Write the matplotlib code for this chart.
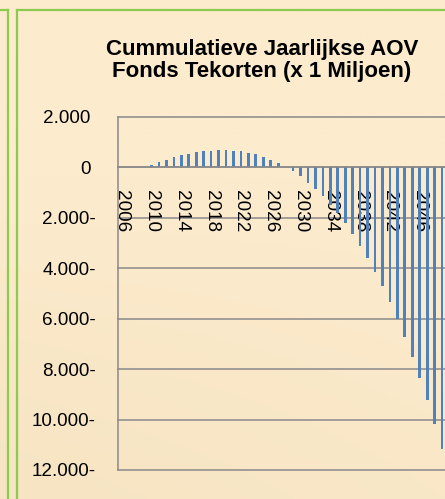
import numpy as np
import matplotlib
matplotlib.use("Agg")
import matplotlib.pyplot as plt
from matplotlib.lines import Line2D
from matplotlib.ticker import FuncFormatter

plt.rcParams['font.family'] = ['Liberation Sans', 'DejaVu Sans']

# data (x 1 miljoen)
years = list(range(2006, 2050))
tekort = [0, 0, 0, 0,
          91, 198, 289, 396, 475, 542, 594, 634, 661, 673,
          673, 661, 634, 582, 515, 408, 289, 158,
          0,
          -158, -356, -614, -875, -1152, -1489, -1821, -2209, -2637, -3100,
          -3603, -4157, -4715, -5344, -6029, -6742, -7522, -8337, -9236,
          -10158, -11176]
title = "Cummulatieve Jaarlijkse AOV\nFonds Tekorten (x 1 Miljoen)"
y_ticks = [2000, 0, -2000, -4000, -6000, -8000, -10000, -12000]

bg = '#FBEACA'
green = '#8CCB4E'
grid_c = '#8A8A8A'
bar_c = '#4F81BD'

W, H = 445, 499
fig = plt.figure(figsize=(W / 100, H / 100), dpi=100, facecolor=bg)

# soft paper-like background shading
bgax = fig.add_axes([0, 0, 1, 1], zorder=-10)
yy, xx = np.mgrid[0:1:200j, 0:1:200j]
shade = 0.5 * np.clip((yy - 0.35) / 0.65, 0, 1) * (1 - 0.5 * xx)
bgax.imshow(shade, cmap=matplotlib.colors.LinearSegmentedColormap.from_list(
    'paper', ['#FCEBCD', '#F0DDB8']), vmin=0, vmax=1, aspect='auto',
    extent=[0, 1, 0, 1], origin='upper')
bgax.axis('off')

# green frame lines (pixel coords -> figure coords)
def px_line(x0, y0, x1, y1):
    fig.add_artist(Line2D([x0 / W, x1 / W], [1 - y0 / H, 1 - y1 / H],
                          color=green, lw=1.6, transform=fig.transFigure))

px_line(0, 9.8, 8.3, 9.8)
px_line(8.3, 9.8, 8.3, H)
px_line(17, 9.8, W, 9.8)
px_line(17, 9.8, 17, H)

fig.text(262 / W, 1 - 60.5 / H, title, ha='center', va='center',
         fontsize=16, fontweight='bold', linespacing=1.12)

n = len(years)
step = 7.45
ax = fig.add_axes([118 / W, 29 / H, (n + 1) * step / W, 353 / H])
ax.set_facecolor('none')
ax.bar(np.arange(n), tekort, width=0.36, color=bar_c, zorder=2)

ax.set_xlim(-0.5, n + 0.5)
ax.set_ylim(-12000, 2000)
ax.set_yticks(y_ticks)
ax.yaxis.set_major_formatter(FuncFormatter(
    lambda v, p: (f"{abs(int(v)):,}".replace(",", ".") + ("-" if v < 0 else ""))))
for v in y_ticks:
    ax.axhline(v, color=grid_c, lw=1.1, zorder=1, clip_on=False)

for sp in ['top', 'right']:
    ax.spines[sp].set_visible(False)
ax.spines['left'].set_color(grid_c)
ax.spines['left'].set_linewidth(1.1)
ax.spines['bottom'].set_position(('data', 0))
ax.spines['bottom'].set_color(grid_c)
ax.spines['bottom'].set_linewidth(1.1)

ax.set_xticks(range(0, n, 4))
ax.set_xticklabels([str(y) for y in years[::4]], rotation=270,
                   ha='center', va='top')
ax.tick_params(axis='both', length=0, labelsize=13.6, colors='black')
ax.tick_params(axis='x', pad=16.5)

for tick, v in zip(ax.yaxis.get_major_ticks(), y_ticks):
    tick.set_pad(15.8 if v < 0 else 19.9)

fig.savefig("out.png", dpi=100, facecolor=bg)
